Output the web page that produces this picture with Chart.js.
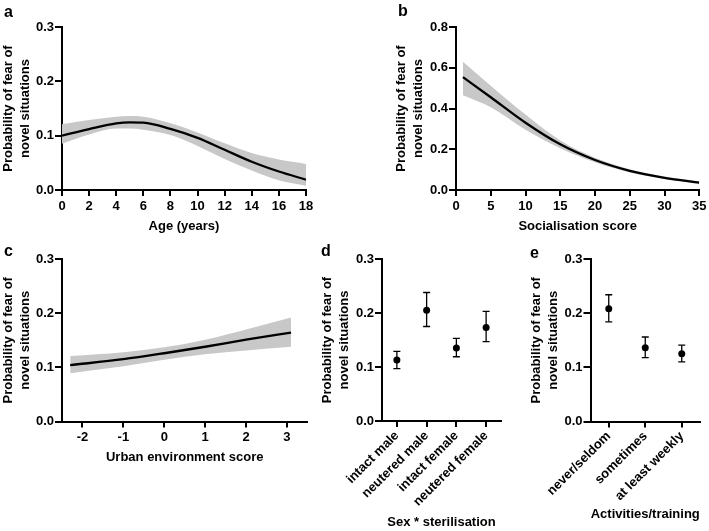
<!DOCTYPE html>
<html><head><meta charset="utf-8">
<script src="https://cdn.jsdelivr.net/npm/chart.js@4/dist/chart.umd.min.js"></script>
<style>
html,body{margin:0;padding:0;background:#fff;}
body{width:709px;height:531px;position:relative;overflow:hidden;font-family:'Liberation Sans',Arial,sans-serif;}
canvas{position:absolute;}
.lbl{position:absolute;font-weight:bold;font-size:16px;line-height:16px;color:#000;}
</style></head><body>
<canvas id="ca" width="330" height="240" style="left:0px;top:0px;width:330px;height:240px"></canvas>
<canvas id="cb" width="316" height="240" style="left:393px;top:0px;width:316px;height:240px"></canvas>
<canvas id="cc" width="330" height="231" style="left:0px;top:240px;width:330px;height:231px"></canvas>
<canvas id="cd" width="210" height="291" style="left:319px;top:240px;width:210px;height:291px"></canvas>
<canvas id="ce" width="181" height="291" style="left:528px;top:240px;width:181px;height:291px"></canvas>
<div class="lbl" style="left:4px;top:4px">a</div>
<div class="lbl" style="left:398px;top:3px">b</div>
<div class="lbl" style="left:4px;top:243px">c</div>
<div class="lbl" style="left:321px;top:243px">d</div>
<div class="lbl" style="left:530px;top:245px">e</div>
<script>
// ---- data ----
const ageYears = [0, 2, 4, 5, 6, 8, 10, 12, 14, 16, 18];
const ageMean  = [0.100, 0.112, 0.1225, 0.1245, 0.124, 0.1125, 0.096, 0.074, 0.052, 0.034, 0.019];
const ageUpper = [0.121, 0.129, 0.135, 0.136, 0.135, 0.123, 0.106, 0.086, 0.068, 0.056, 0.048];
const ageLower = [0.085, 0.102, 0.113, 0.113, 0.111, 0.101, 0.081, 0.057, 0.036, 0.018, 0.008];

const socScore = [1, 5, 10, 15, 20, 25, 30, 35];
const socMean  = [0.554, 0.455, 0.330, 0.224, 0.147, 0.094, 0.060, 0.036];
const socUpper = [0.630, 0.512, 0.370, 0.243, 0.158, 0.102, 0.066, 0.043];
const socLower = [0.465, 0.406, 0.296, 0.205, 0.136, 0.086, 0.054, 0.032];

const urbScore = [-2.3, -1, 0, 1, 2, 3.1];
const urbMean  = [0.104, 0.115, 0.126, 0.138, 0.151, 0.164];
const urbUpper = [0.121, 0.128, 0.137, 0.151, 0.170, 0.192];
const urbLower = [0.089, 0.102, 0.114, 0.124, 0.131, 0.138];
const urbTicks = [-2, -1, 0, 1, 2, 3];

const sexCats = ['intact male', 'neutered male', 'intact female', 'neutered female'];
const sexMean = [0.113, 0.205, 0.135, 0.173];
const sexLow  = [0.097, 0.175, 0.119, 0.147];
const sexHigh = [0.129, 0.238, 0.153, 0.203];

const actCats = ['never/seldom', 'sometimes', 'at least weekly'];
const actMean = [0.208, 0.136, 0.125];
const actLow  = [0.184, 0.118, 0.110];
const actHigh = [0.234, 0.156, 0.141];

const yTitle = ['Probability of fear of', 'novel situations'];

// ---- helpers ----
const FONT = '"Liberation Sans", Arial, Helvetica, sans-serif';
const tickFont = {family: FONT, size: 13, weight: 'bold'};
const titleFont = {family: FONT, size: 13, weight: 'bold', lineHeight: 1.3};
const BAND = '#c8c8c8';

function pts(xs, ys) { return xs.map((x, i) => ({x: x, y: ys[i]})); }

function yAxis(max, step, width) {
  return {
    type: 'linear', min: 0, max: max,
    ticks: {stepSize: step, callback: v => Number(v).toFixed(1), color: '#000', font: tickFont, padding: 1},
    grid: {display: true, drawOnChartArea: false, drawTicks: true, tickLength: 7, color: '#000', lineWidth: 2},
    border: {display: true, color: '#000', width: 2},
    title: {display: true, text: yTitle, color: '#000', font: titleFont, padding: {top: 0, bottom: 0}},
    afterFit(s) { s.width = width; }
  };
}

function xLinear(min, max, step, height, title, pb, fixedTicks) {
  const ax = {
    type: 'linear', min: min, max: max,
    ticks: {stepSize: step, color: '#000', font: tickFont, padding: 2.5, maxRotation: 0, autoSkip: false},
    grid: {display: true, drawOnChartArea: false, drawTicks: true, tickLength: 6, color: '#000', lineWidth: 2},
    border: {display: true, color: '#000', width: 2},
    title: {display: true, text: title, color: '#000', font: titleFont, padding: {top: 0, bottom: pb}},
    afterFit(s) { s.height = height; }
  };
  if (fixedTicks) ax.afterBuildTicks = (s) => { s.ticks = fixedTicks.map(v => ({value: v})); };
  return ax;
}

function xCat(height, title, pb) {
  return {
    type: 'category', offset: true,
    ticks: {color: '#000', font: {family: FONT, size: 13, weight: 'bold'}, padding: 1, minRotation: 45, maxRotation: 45, autoSkip: false},
    grid: {display: true, drawOnChartArea: false, drawTicks: true, tickLength: 6, color: '#000', lineWidth: 2, offset: false},
    border: {display: true, color: '#000', width: 2},
    title: {display: true, text: title, color: '#000', font: titleFont, padding: {top: 0, bottom: pb}},
    afterFit(s) { s.height = height; }
  };
}

const baseOpts = (pad) => ({
  responsive: false, animation: false, devicePixelRatio: 1, events: [],
  layout: {padding: pad},
  plugins: {legend: {display: false}, tooltip: {enabled: false}}
});

function curveChart(id, xs, mean, upper, lower, xScale, yScale, pad) {
  const opts = baseOpts(pad);
  opts.scales = {x: xScale, y: yScale};
  new Chart(document.getElementById(id), {
    type: 'line',
    data: {datasets: [
      {data: pts(xs, mean), borderColor: '#000', borderWidth: 2.3, pointRadius: 0, fill: false, cubicInterpolationMode: 'monotone'},
      {data: pts(xs, upper), borderWidth: 0, borderColor: 'rgba(0,0,0,0)', backgroundColor: BAND, pointRadius: 0, fill: '+1', cubicInterpolationMode: 'monotone'},
      {data: pts(xs, lower), borderWidth: 0, borderColor: 'rgba(0,0,0,0)', pointRadius: 0, fill: false, cubicInterpolationMode: 'monotone'}
    ]},
    options: opts
  });
}

function catChart(id, cats, mean, lo, hi, xScale, yScale, pad) {
  const ds = [{data: cats.map((c, i) => ({x: c, y: mean[i]})), showLine: false, pointRadius: 3.5,
               pointBackgroundColor: '#000', pointBorderColor: '#000', pointBorderWidth: 0}];
  cats.forEach((c, i) => ds.push({
    data: [{x: c, y: lo[i]}, {x: c, y: hi[i]}], showLine: true, borderColor: '#000', borderWidth: 1.3,
    pointStyle: 'line', pointRadius: 3.5, pointBorderColor: '#000', pointBorderWidth: 1.3
  }));
  const opts = baseOpts(pad);
  opts.scales = {x: xScale, y: yScale};
  new Chart(document.getElementById(id), {type: 'line', data: {labels: cats, datasets: ds}, options: opts});
}

// ---- panels ----
curveChart('ca', ageYears, ageMean, ageUpper, ageLower,
  xLinear(0, 18, 2, 50, 'Age (years)', 5.5), yAxis(0.3, 0.1, 62), {top: 27, right: 24, left: 0, bottom: 0});
curveChart('cb', socScore, socMean, socUpper, socLower,
  xLinear(0, 35, 5, 50, 'Socialisation score', 5.5), yAxis(0.8, 0.2, 63), {top: 27, right: 7, left: 0, bottom: 0});
curveChart('cc', urbScore, urbMean, urbUpper, urbLower,
  xLinear(-2.5, 3.5, 1, 49.5, 'Urban environment score', 5.5, urbTicks), yAxis(0.3, 0.1, 62), {top: 19, right: 22.6, left: 0, bottom: 0});
catChart('cd', sexCats, sexMean, sexLow, sexHigh,
  xCat(110, 'Sex * sterilisation', 0.5), yAxis(0.3, 0.1, 63), {top: 19, right: 28, left: 0, bottom: 0});
catChart('ce', actCats, actMean, actLow, actHigh,
  xCat(109.5, 'Activities/training', 8), yAxis(0.3, 0.1, 62.5), {top: 19, right: 9, left: 0, bottom: 0});
</script>
</body></html>
